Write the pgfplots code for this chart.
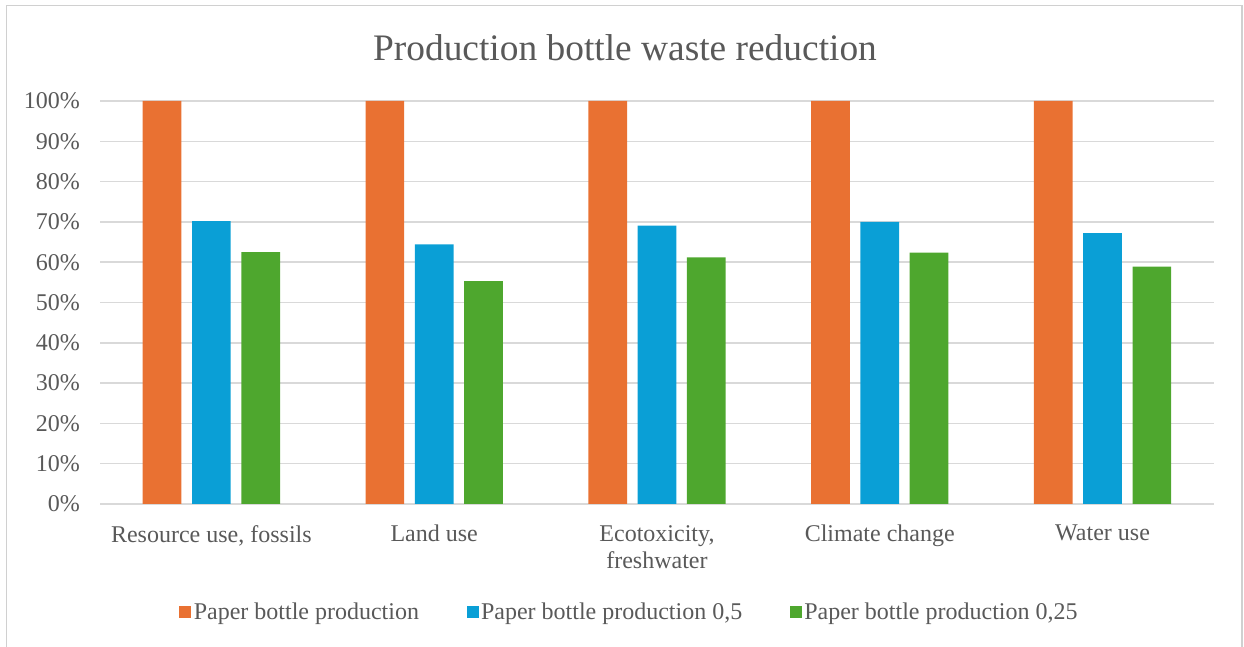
\documentclass[border=0pt]{standalone}
\usepackage{fontspec}
\setmainfont{Liberation Serif}
\usepackage{pgfplots}
\pgfplotsset{compat=1.18}
\definecolor{cOr}{HTML}{E97132}
\definecolor{cBl}{HTML}{0A9FD6}
\definecolor{cGr}{HTML}{4EA72E}
\definecolor{cTx}{HTML}{595959}
\definecolor{cGrid}{HTML}{D9D9D9}
\definecolor{cBorder}{HTML}{D0D0D0}
\begin{document}
\begin{tikzpicture}[x=1pt,y=1pt]
\useasboundingbox (0,0) rectangle (1244,647);
\draw[cBorder, line width=1.5pt] (6.5,0) -- (6.5,641.5) -- (1242,641.5) -- (1242,0);
\node[anchor=base, text=cTx, font=\fontsize{37.4}{44}\selectfont] at (625,586) {Production bottle waste reduction};
\begin{axis}[
  at={(100pt,143pt)}, anchor=south west,
  width=1114pt, height=403pt, scale only axis,
  xmin=-0.5, xmax=4.5, ymin=0, ymax=100,
  ybar=10.6pt, bar width=38.7pt,
  axis line style={draw=none},
  ytick={0,10,...,100},
  yticklabel={\pgfmathprintnumber{\tick}\%},
  /pgf/number format/assume math mode=true,
  ymajorgrids, grid style={cGrid, line width=1.5pt},
  major tick length=0pt,
  xtick={0,1,2,3,4},
  xticklabels={{Resource use, fossils},{Land use},{Ecotoxicity,\\freshwater},{Climate change},{Water use}},
  xticklabel style={align=center, anchor=north, inner sep=0pt, yshift=-21pt, text=cTx, font=\fontsize{24}{27.5}\selectfont},
  yticklabel style={anchor=east, inner sep=0pt, xshift=-20pt, text=cTx, font=\fontsize{24}{28}\selectfont},
  legend columns=3,
  legend style={at={(0.4755,-0.268)}, anchor=center, draw=none, fill=none,
    font=\fontsize{24}{28}\selectfont, text=cTx,
    /tikz/every even column/.append style={column sep=45pt},
    nodes={inner sep=2.5pt}},
  legend image code/.code={\fill[#1] (-6pt,-6pt) rectangle (6pt,6pt);},
]
\addplot[fill=cOr, draw=none] coordinates {(0,100) (1,100) (2,100) (3,100) (4,100)};
\addplot[fill=cBl, draw=none] coordinates {(0,70.2) (1,64.4) (2,69.1) (3,70.0) (4,67.2)};
\addplot[fill=cGr, draw=none] coordinates {(0,62.5) (1,55.3) (2,61.2) (3,62.4) (4,58.9)};
\legend{{Paper bottle production},{Paper bottle production 0,5},{Paper bottle production 0,25}}
\end{axis}
\end{tikzpicture}
\end{document}
